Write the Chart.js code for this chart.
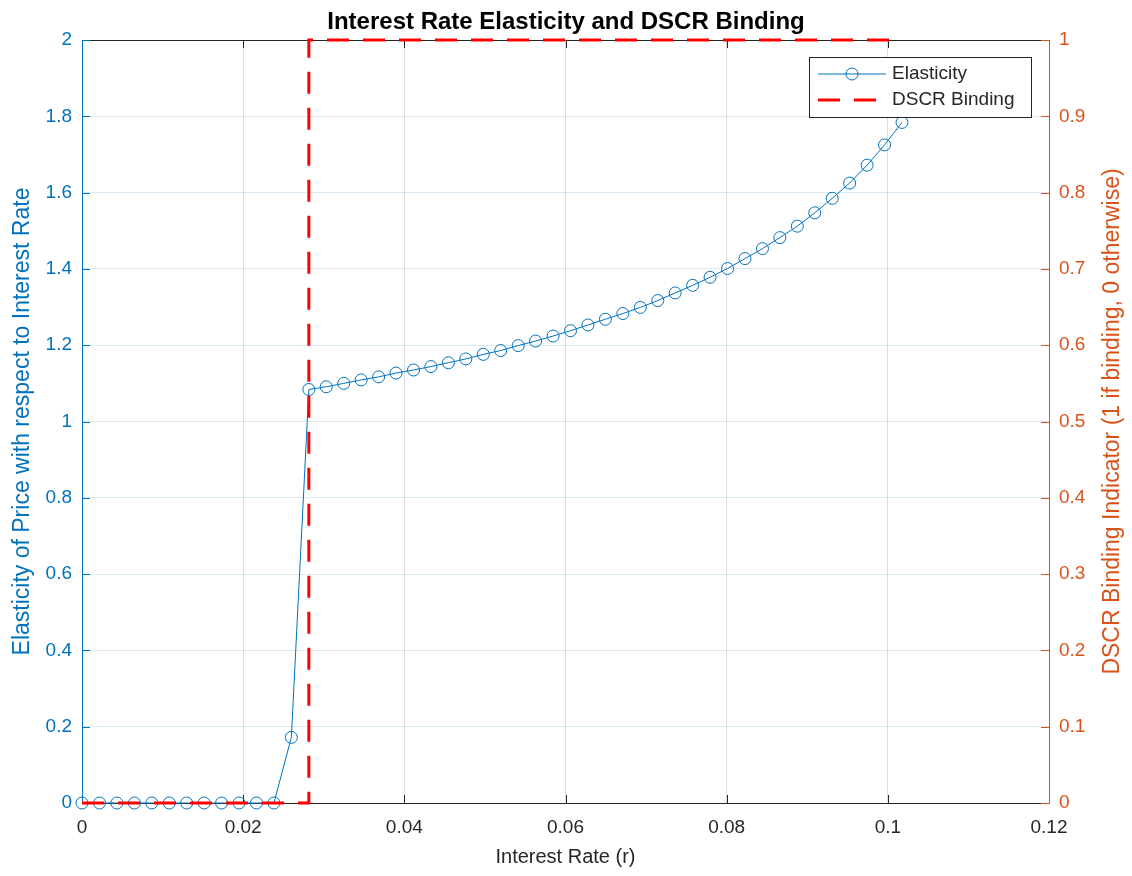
<!DOCTYPE html>
<html>
<head>
<meta charset="utf-8">
<title>Interest Rate Elasticity and DSCR Binding</title>
<script src="https://cdn.jsdelivr.net/npm/chart.js@4/dist/chart.umd.min.js"></script>
<style>
    body { margin: 0; background: #fff; }
    #wrap { width: 1132px; height: 876px; }
</style>
</head>
<body>
<div id="wrap"><canvas id="elasticityChart" width="1132" height="876"></canvas></div>
<script>
// Interest rate grid (r)
var rates = [
    0, 0.00217, 0.00433, 0.0065, 0.00866, 0.01083, 0.01299, 0.01516,
    0.01732, 0.01949, 0.02165, 0.02382, 0.02598, 0.02815, 0.03031, 0.03248,
    0.03464, 0.03681, 0.03897, 0.04114, 0.0433, 0.04547, 0.04763, 0.0498,
    0.05196, 0.05413, 0.05629, 0.05846, 0.06062, 0.06279, 0.06495, 0.06712,
    0.06928, 0.07145, 0.07361, 0.07578, 0.07794, 0.08011, 0.08227, 0.08444,
    0.0866, 0.08877, 0.09093, 0.0931, 0.09526, 0.09743, 0.09959, 0.10176
];

// Elasticity of price with respect to the interest rate
var elasticity = [
    0, 0, 0, 0, 0, 0, 0, 0,
    0, 0, 0, 0, 0.172, 1.084, 1.091, 1.100,
    1.109, 1.117, 1.127, 1.135, 1.144, 1.154, 1.164, 1.176,
    1.186, 1.199, 1.211, 1.224, 1.238, 1.253, 1.268, 1.283,
    1.299, 1.317, 1.337, 1.357, 1.378, 1.401, 1.427, 1.453,
    1.482, 1.512, 1.547, 1.585, 1.625, 1.672, 1.725, 1.784
];

// 1 if the DSCR constraint binds, 0 otherwise
var dscrBinding = [
    0, 0, 0, 0, 0, 0, 0, 0,
    0, 0, 0, 0, 0, 1, 1, 1,
    1, 1, 1, 1, 1, 1, 1, 1,
    1, 1, 1, 1, 1, 1, 1, 1,
    1, 1, 1, 1, 1, 1, 1, 1,
    1, 1, 1, 1, 1, 1, 1, 1
];

var xTicks = [0, 0.02, 0.04, 0.06, 0.08, 0.1, 0.12];
var leftTicks = [0, 0.2, 0.4, 0.6, 0.8, 1, 1.2, 1.4, 1.6, 1.8, 2];
var rightTicks = [0, 0.1, 0.2, 0.3, 0.4, 0.5, 0.6, 0.7, 0.8, 0.9, 1];

var BLUE = "#0072BD";
var ORANGE = "#D95319";
var DARK = "#262626";
var FONT = "'Liberation Sans', Arial, Helvetica, sans-serif";

function toPoints(xs, ys) {
    return xs.map(function (x, i) { return { x: x, y: ys[i] }; });
}

function fmt(v) {
    return String(+v.toFixed(2));
}

// Axis box with inward ticks, drawn under the data
var axesBox = {
    id: "axesBox",
    beforeDatasetsDraw: function (chart) {
        var ctx = chart.ctx;
        var a = chart.chartArea;
        var xs = chart.scales.x, y = chart.scales.y, y1 = chart.scales.y1;
        var len = 8;
        ctx.save();
        ctx.lineWidth = 1;

        ctx.strokeStyle = DARK;
        ctx.beginPath();
        ctx.moveTo(a.left, a.top + 0.5); ctx.lineTo(a.right, a.top + 0.5);
        ctx.moveTo(a.left, a.bottom + 0.5); ctx.lineTo(a.right, a.bottom + 0.5);
        xTicks.forEach(function (t) {
            var px = Math.round(xs.getPixelForValue(t)) + 0.5;
            ctx.moveTo(px, a.bottom); ctx.lineTo(px, a.bottom - len);
            ctx.moveTo(px, a.top); ctx.lineTo(px, a.top + len);
        });
        ctx.stroke();

        ctx.strokeStyle = BLUE;
        ctx.beginPath();
        ctx.moveTo(a.left + 0.5, a.top); ctx.lineTo(a.left + 0.5, a.bottom + 1);
        leftTicks.forEach(function (t) {
            var py = Math.round(y.getPixelForValue(t)) + 0.5;
            ctx.moveTo(a.left, py); ctx.lineTo(a.left + len, py);
        });
        ctx.stroke();

        ctx.strokeStyle = ORANGE;
        ctx.beginPath();
        ctx.moveTo(a.right + 0.5, a.top); ctx.lineTo(a.right + 0.5, a.bottom + 1);
        rightTicks.forEach(function (t) {
            var py = Math.round(y1.getPixelForValue(t)) + 0.5;
            ctx.moveTo(a.right, py); ctx.lineTo(a.right - len, py);
        });
        ctx.stroke();
        ctx.restore();
    }
};

// Legend box in the upper right plus the right-hand axis title
var overlay = {
    id: "overlay",
    afterDraw: function (chart) {
        var ctx = chart.ctx;
        var a = chart.chartArea;
        ctx.save();

        // legend
        var bx = 809.5, by = 57.5, bw = 222, bh = 60;
        ctx.fillStyle = "#fff";
        ctx.fillRect(bx, by, bw, bh);
        ctx.strokeStyle = DARK;
        ctx.lineWidth = 1;
        ctx.strokeRect(bx, by, bw, bh);

        ctx.strokeStyle = BLUE;
        ctx.lineWidth = 1;
        ctx.beginPath();
        ctx.moveTo(818, 74); ctx.lineTo(886, 74);
        ctx.stroke();
        ctx.beginPath();
        ctx.arc(852, 74, 6, 0, Math.PI * 2);
        ctx.stroke();

        ctx.strokeStyle = "#FF0000";
        ctx.lineWidth = 3;
        ctx.setLineDash([22, 14]);
        ctx.beginPath();
        ctx.moveTo(818, 100); ctx.lineTo(886, 100);
        ctx.stroke();
        ctx.setLineDash([]);

        ctx.fillStyle = DARK;
        ctx.font = "19px " + FONT;
        ctx.textAlign = "left";
        ctx.textBaseline = "middle";
        ctx.fillText("Elasticity", 892, 74);
        ctx.fillText("DSCR Binding", 892, 100);

        // right axis title, reading bottom to top
        ctx.translate(1113, (a.top + a.bottom) / 2);
        ctx.rotate(-Math.PI / 2);
        ctx.fillStyle = ORANGE;
        ctx.font = "23px " + FONT;
        ctx.textAlign = "center";
        ctx.fillText("DSCR Binding Indicator (1 if binding, 0 otherwise)", 0, 0);
        ctx.restore();
    }
};

var ctx = document.getElementById("elasticityChart").getContext("2d");

window.elasticityChart = new Chart(ctx, {
    type: "line",
    data: {
        datasets: [{
            label: "Elasticity",
            data: toPoints(rates, elasticity),
            yAxisID: "y",
            borderColor: BLUE,
            borderWidth: 1,
            pointStyle: "circle",
            pointRadius: 6,
            pointBorderWidth: 1,
            pointBorderColor: BLUE,
            pointBackgroundColor: "rgba(0,0,0,0)",
            tension: 0,
            clip: false,
            order: 1
        }, {
            label: "DSCR Binding",
            data: toPoints(rates, dscrBinding),
            yAxisID: "y1",
            borderColor: "#FF0000",
            borderWidth: 3,
            borderDash: [22, 14],
            pointRadius: 0,
            stepped: "before",
            clip: false,
            order: 0
        }]
    },
    options: {
        responsive: false,
        animation: false,
        events: [],
        plugins: {
            legend: { display: false },
            tooltip: { enabled: false },
            title: {
                display: true,
                text: "Interest Rate Elasticity and DSCR Binding",
                color: "#000",
                font: { family: FONT, size: 24, weight: "bold" },
                padding: { top: 8, bottom: 3.2 }
            }
        },
        scales: {
            x: {
                type: "linear",
                min: 0,
                max: 0.12,
                afterBuildTicks: function (s) { s.ticks = xTicks.map(function (v) { return { value: v }; }); },
                afterFit: function (s) { s.height = 73; },
                ticks: {
                    color: DARK,
                    font: { family: FONT, size: 19 },
                    padding: 13,
                    maxRotation: 0,
                    callback: fmt
                },
                grid: { color: "rgba(38,38,38,0.15)", drawTicks: false },
                border: { display: false },
                title: {
                    display: true,
                    text: "Interest Rate (r)",
                    color: DARK,
                    font: { family: FONT, size: 20 },
                    padding: { top: 0, bottom: 7 }
                }
            },
            y: {
                position: "left",
                min: 0,
                max: 2,
                afterBuildTicks: function (s) { s.ticks = leftTicks.map(function (v) { return { value: v }; }); },
                afterFit: function (s) { s.width = 82; },
                ticks: {
                    color: BLUE,
                    font: { family: FONT, size: 19 },
                    padding: 10,
                    callback: fmt
                },
                grid: { color: "rgba(0,114,189,0.15)", drawTicks: false },
                border: { display: false },
                title: {
                    display: true,
                    text: "Elasticity of Price with respect to Interest Rate",
                    color: BLUE,
                    font: { family: FONT, size: 23 },
                    padding: { top: 9, bottom: 0 }
                }
            },
            y1: {
                position: "right",
                min: 0,
                max: 1,
                afterBuildTicks: function (s) { s.ticks = rightTicks.map(function (v) { return { value: v }; }); },
                afterFit: function (s) { s.width = 83; },
                ticks: {
                    color: ORANGE,
                    font: { family: FONT, size: 19 },
                    padding: 10,
                    callback: fmt
                },
                grid: { display: false, drawTicks: false },
                border: { display: false }
            }
        }
    },
    plugins: [axesBox, overlay]
});
</script>
</body>
</html>
